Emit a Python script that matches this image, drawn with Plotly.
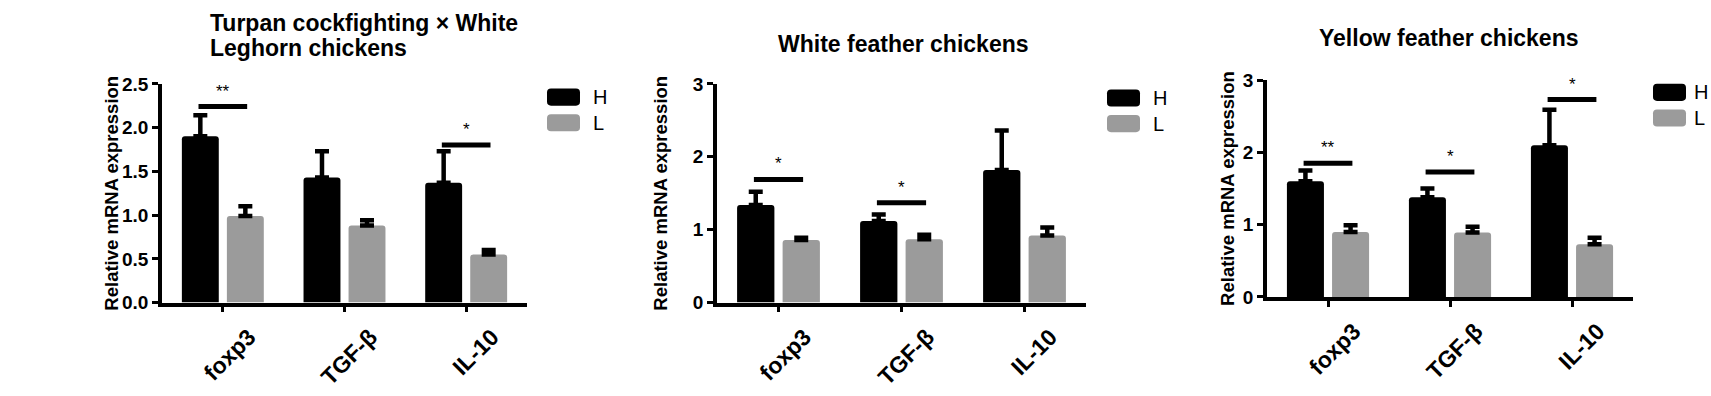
import plotly.graph_objects as go

W, H = 1711, 396

categories = ["foxp3", "TGF-β", "IL-10"]
series_names = ["H", "L"]

# Panel 1: Turpan cockfighting × White Leghorn
p1_title_lines = ["Turpan cockfighting × White", "Leghorn chickens"]
p1_H = [1.90, 1.43, 1.37]
p1_H_err = [0.24, 0.30, 0.36]
p1_L = [0.99, 0.88, 0.55]
p1_L_err = [0.11, 0.06, 0.05]
p1_sig = [(0, 2.24, "**"), (2, 1.80, "*")]
p1_yticks = [0.0, 0.5, 1.0, 1.5, 2.0, 2.5]

# Panel 2: White feather
p2_title = "White feather chickens"
p2_H = [1.34, 1.12, 1.82]
p2_H_err = [0.18, 0.09, 0.54]
p2_L = [0.86, 0.87, 0.92]
p2_L_err = [0.03, 0.06, 0.11]
p2_sig = [(0, 1.69, "*"), (1, 1.37, "*")]
p2_yticks = [0, 1, 2, 3]

# Panel 3: Yellow feather
p3_title = "Yellow feather chickens"
p3_H = [1.60, 1.38, 2.10]
p3_H_err = [0.15, 0.12, 0.49]
p3_L = [0.90, 0.89, 0.73]
p3_L_err = [0.09, 0.08, 0.09]
p3_sig = [(0, 1.85, "**"), (1, 1.73, "*"), (2, 2.73, "*")]
p3_yticks = [0, 1, 2, 3]

colors = {"H": "#000000", "L": "#9b9b9b"}
FONT = "Arial, Liberation Sans, sans-serif"


def px_x(v):
    return v / W


def px_y(v):
    return 1 - v / H


panels = [
    dict(H=p1_H, He=p1_H_err, L=p1_L, Le=p1_L_err, sig=p1_sig, ticks=p1_yticks, fmt=".1f",
         yr=[0, 2.5], xd=[162, 527], yd=[309, 78], standoff=0),
    dict(H=p2_H, He=p2_H_err, L=p2_L, Le=p2_L_err, sig=p2_sig, ticks=p2_yticks, fmt="d",
         yr=[0, 3], xd=[717, 1086], yd=[309, 78], standoff=21),
    dict(H=p3_H, He=p3_H_err, L=p3_L, Le=p3_L_err, sig=p3_sig, ticks=p3_yticks, fmt="d",
         yr=[0, 3], xd=[1267, 1633], yd=[303, 74], standoff=4),
]

fig = go.Figure()
layout = {}
shapes = []
annotations = []

for i, p in enumerate(panels, start=1):
    xa = "x" if i == 1 else f"x{i}"
    ya = "y" if i == 1 else f"y{i}"
    for name, vals, errs in (("H", p["H"], p["He"]), ("L", p["L"], p["Le"])):
        fig.add_trace(go.Bar(
            x=categories, y=vals, name=name, showlegend=False,
            xaxis=xa, yaxis=ya,
            marker=dict(color=colors[name], cornerradius=3, line=dict(width=0)),
            error_y=dict(type="data", array=errs, arrayminus=[0] * len(errs),
                         symmetric=False, color="black", thickness=4.5, width=7),
        ))
    xkey = "xaxis" if i == 1 else f"xaxis{i}"
    ykey = "yaxis" if i == 1 else f"yaxis{i}"
    layout[xkey] = dict(
        domain=[px_x(p["xd"][0]), px_x(p["xd"][1])], anchor=ya,
        type="category", range=[-0.5, 2.5],
        showline=True, linecolor="black", linewidth=3.5,
        ticks="outside", ticklen=6, tickwidth=3, tickcolor="black",
        tickangle=-45, ticklabelshift=26, ticklabelstandoff=2,
        tickfont=dict(family=FONT, size=23, color="black", weight="bold"),
        showgrid=False, zeroline=False, fixedrange=True,
    )
    layout[ykey] = dict(
        domain=[px_y(p["yd"][0]), px_y(p["yd"][1])], anchor=xa,
        range=p["yr"], tickvals=p["ticks"], tickformat=p["fmt"],
        showline=True, linecolor="black", linewidth=3.5,
        ticks="outside", ticklen=6, tickwidth=3, tickcolor="black",
        tickfont=dict(family=FONT, size=19, color="black", weight="bold"),
        title=dict(text="Relative mRNA expression", standoff=p["standoff"],
                   font=dict(family=FONT, size=18.5, color="black", weight="bold")),
        showgrid=False, zeroline=False, fixedrange=True,
    )
    for idx, level, label in p["sig"]:
        shapes.append(dict(type="line", xref=xa, yref=ya,
                           x0=idx - 0.2, x1=idx + 0.2, y0=level, y1=level,
                           line=dict(color="black", width=5)))
        annotations.append(dict(xref=xa, yref=ya, x=idx, y=level, text=label,
                                showarrow=False, yanchor="bottom", yshift=4,
                                font=dict(family=FONT, size=17, color="black")))

# Titles
title_font = dict(family=FONT, size=23, color="black", weight="bold")
for k, line in enumerate(p1_title_lines):
    annotations.append(dict(xref="paper", yref="paper", x=px_x(208), y=px_y(14 + 26 * k),
                            text=line, showarrow=False, xanchor="left", yanchor="middle",
                            align="left", font=title_font))
annotations.append(dict(xref="paper", yref="paper", x=px_x(903), y=px_y(36), text=p2_title,
                        showarrow=False, xanchor="center", yanchor="middle", font=title_font))
annotations.append(dict(xref="paper", yref="paper", x=px_x(1449), y=px_y(30), text=p3_title,
                        showarrow=False, xanchor="center", yanchor="middle", font=title_font))


# Legends (drawn per panel)
def rounded_rect(x0, y0, x1, y1, r=4):
    def P(x, y):
        return f"{px_x(x):.5f},{px_y(y):.5f}"
    return (f"M {P(x0 + r, y0)} L {P(x1 - r, y0)} Q {P(x1, y0)} {P(x1, y0 + r)} "
            f"L {P(x1, y1 - r)} Q {P(x1, y1)} {P(x1 - r, y1)} L {P(x0 + r, y1)} "
            f"Q {P(x0, y1)} {P(x0, y1 - r)} L {P(x0, y0 + r)} Q {P(x0, y0)} {P(x0 + r, y0)} Z")


legend_pos = [(547, 83, 591), (1107, 84, 1151), (1653, 78, 1692)]
for bx, by, tx in legend_pos:
    for k, name in enumerate(series_names):
        y0 = by + k * 27
        shapes.append(dict(type="path", xref="paper", yref="paper",
                           path=rounded_rect(bx, y0, bx + 33, y0 + 18),
                           fillcolor=colors[name], line=dict(width=0)))
        annotations.append(dict(xref="paper", yref="paper", x=px_x(tx), y=px_y(y0 + 9),
                                text=name, showarrow=False, xanchor="left", yanchor="middle",
                                font=dict(family=FONT, size=20, color="black")))

fig.update_layout(
    width=W, height=H, margin=dict(l=0, r=0, t=0, b=0),
    paper_bgcolor="white", plot_bgcolor="white",
    barmode="group", bargap=0.26, bargroupgap=0.18,
    shapes=shapes, annotations=annotations,
    font=dict(family=FONT, color="black"),
    **layout,
)

fig.write_html("out.html")
